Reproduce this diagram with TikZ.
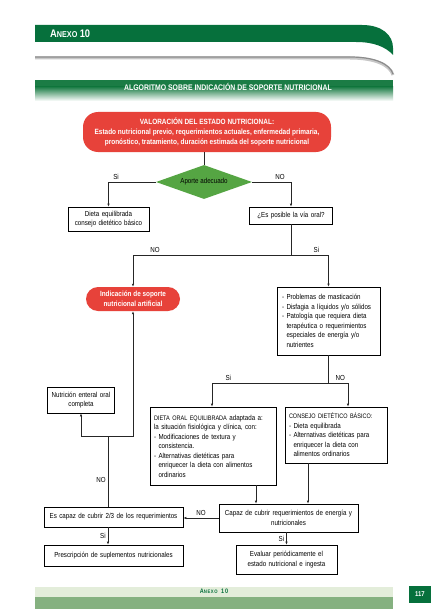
\documentclass[tikz,border=0pt]{standalone}
\usepackage{fontspec}
\setmainfont{Liberation Sans}[FakeStretch=0.85]
\usetikzlibrary{arrows.meta,shapes.geometric}
\definecolor{anexo}{HTML}{06703C}
\definecolor{banda}{HTML}{1B7C45}
\definecolor{rojo}{HTML}{E7423A}
\definecolor{verderombo}{HTML}{55A543}
\definecolor{pieclaro}{HTML}{E3EDDA}
\definecolor{pieoscuro}{HTML}{85B180}
\newcommand{\sang}{\hphantom{- }}
\newcommand{\mayus}[1]{{\fontsize{6.5}{9.5}\selectfont #1}}

\begin{document}
\begin{tikzpicture}[x=1pt,y=-1pt,
  caja/.style={draw=black,line width=.6pt,fill=white,inner xsep=5pt,inner ysep=0pt,align=center,font=\fontsize{7.3}{9.5}\selectfont},
  rojacaja/.style={fill=rojo,rounded corners=12pt,inner sep=0pt,align=center,text=white,font=\bfseries\fontsize{7.5}{10}\selectfont},
  decision/.style={diamond,fill=verderombo,aspect=2.8,minimum width=96pt,minimum height=34pt,inner sep=0pt,font=\fontsize{7.3}{9}\selectfont},
  flecha/.style={draw=black!85,line width=.6pt,-{Latex[length=3pt,width=2.4pt]}},
  linea/.style={draw=black!85,line width=.6pt},
  etiq/.style={font=\fontsize{7.3}{9}\selectfont,inner sep=2pt}]
  \useasboundingbox (0,0) rectangle (439,615);
  \fill[white] (0,0) rectangle (439,615);

  % cabecera
  \fill[anexo] (35,25) -- (362,25) .. controls (382,25) and (393,35) .. (393,48) -- (393,55)
    .. controls (386,47) and (374,42) .. (356,42) -- (35,42) -- cycle;
  \draw[black!22,line width=3pt] (35,58) -- (350,58) .. controls (375,58) and (390,65) .. (393,75);
  \draw[black!45,line width=1.2pt] (35,57) -- (350,57) .. controls (375,57) and (390,64) .. (393,74);
  \node[anchor=west,text=white,font=\bfseries,inner sep=0pt] (anexo) at (50,34)
    {{\fontsize{11}{11}\selectfont A}{\fontsize{8.5}{9}\selectfont NEXO} {\fontsize{11}{11}\selectfont 10}};
  \fill[banda] (35,80) rectangle (393,87);
  \shade[top color=banda,bottom color=white] (35,86.8) rectangle (393,101);
  \node[text=white,font=\bfseries\fontsize{8.1}{8.5}\selectfont,inner sep=0pt] (titulo) at (228,86.5)
    {ALGORITMO SOBRE INDICACIÓN DE SOPORTE NUTRICIONAL};

  % nodos
  \node[rojacaja,minimum width=248pt,minimum height=40pt,rounded corners=15pt,font=\bfseries\fontsize{7.6}{9.8}\selectfont] (valor) at (207,132)
    {VALORACIÓN DEL ESTADO NUTRICIONAL:\\Estado nutricional previo, requerimientos actuales, enfermedad primaria,\\pronóstico, tratamiento, duración estimada del soporte nutricional};
  \node[decision] (aporte) at (204,182) {Aporte adecuado};
  \node[caja,text width=71pt,minimum height=24pt] (dieta) at (108.5,219) {Dieta equilibrada\\consejo dietético básico};
  \node[caja,text width=73pt,minimum height=17pt] (viaoral) at (291,215.5) {¿Es posible la vía oral?};
  \node[rojacaja,minimum width=94pt,minimum height=24pt] (indic) at (133,299) {Indicación de soporte\\nutricional artificial};
  \node[caja,align=left,text width=93pt,minimum height=68pt] (problemas) at (328.5,321)
    {- Problemas de masticación\\- Disfagia a líquidos y/o sólidos\\- Patología que requiera dieta\\\sang terapéutica o requerimientos\\\sang especiales de energía y/o\\\sang nutrientes};
  \node[caja,inner xsep=3.5pt,text width=60pt,minimum height=26pt] (nutricion) at (81,400) {Nutrición enteral oral\\completa};
  \node[caja,align=left,inner xsep=4pt,text width=118pt,minimum height=78pt] (dietaoral) at (213,446)
    {\mayus{DIETA ORAL EQUILIBRADA} adaptada a:\\la situación fisiológica y clínica, con:\\- Modificaciones de textura y\\\sang consistencia.\\- Alternativas dietéticas para\\\sang enriquecer la dieta con alimentos\\\sang ordinarios};
  \node[caja,align=left,inner xsep=4pt,text width=94pt,minimum height=56pt] (consejo) at (336,435)
    {\mayus{CONSEJO DIETÉTICO BÁSICO:}\\- Dieta equilibrada\\- Alternativas dietéticas para\\\sang enriquecer la dieta con\\\sang alimentos ordinarios};
  \node[caja,text width=129pt,minimum height=20pt] (escapaz) at (113.5,517) {Es capaz de cubrir 2/3 de los requerimientos};
  \node[caja,text width=129pt,minimum height=28pt] (capaz) at (288.5,518) {Capaz de cubrir requerimientos de energía y\\nutricionales};
  \node[caja,text width=129pt,minimum height=21pt] (prescr) at (113.5,555.5) {Prescripción de suplementos nutricionales};
  \node[caja,text width=91pt,minimum height=29pt] (evaluar) at (286.5,559.5) {Evaluar periódicamente el\\estado nutricional e ingesta};

  % conectores
  \coordinate (cruce1) at (291,255);
  \coordinate (cruce2) at (328.5,383);
  \coordinate (cruce3) at (108,436);
  \draw[linea] (aporte.north) -- (aporte.north |- valor.south);
  \draw[flecha] (aporte.west) -| node[etiq,pos=.42,above] {Si} (dieta.north);
  \draw[flecha] (aporte.east) -| node[etiq,pos=.36,above] {NO} (viaoral.north);
  \draw[linea] (viaoral.south) -- (cruce1);
  \draw[flecha] (cruce1) -| node[etiq,pos=.43,above] {NO} (indic.north);
  \draw[flecha] (cruce1) -| node[etiq,pos=.34,above] {Si} (problemas.north);
  \draw[linea] (problemas.south) -- (cruce2);
  \draw[flecha] (cruce2) -| node[etiq,pos=.43,above] {Si} ([xshift=-1pt]dietaoral.north);
  \draw[flecha] (cruce2) -| node[etiq,pos=.3,above] {NO} ([xshift=12pt]consejo.north);
  \draw[flecha] ([xshift=43pt]dietaoral.south) -- ([xshift=43pt]dietaoral.south |- capaz.north);
  \draw[flecha] ([xshift=-28pt]consejo.south) -- ([xshift=-28pt]consejo.south |- capaz.north);
  \draw[flecha] (capaz.west) -- node[etiq,above] {NO} (capaz.west -| escapaz.east);
  \draw[linea] ([xshift=-5.5pt]escapaz.north) -- node[etiq,pos=.38,left] {NO} (cruce3);
  \draw[flecha] (cruce3) -| (indic.south);
  \draw[flecha] (cruce3) -| (nutricion.south);
  \draw[flecha] ([xshift=-5.5pt]escapaz.south) -- node[etiq,left] {Si} ([xshift=-5.5pt]prescr.north);
  \draw[flecha] (evaluar.north |- capaz.south) -- node[etiq,left] {Si} (evaluar.north);

  % pie
  \fill[pieclaro] (35,587) rectangle (393,597);
  \fill[pieoscuro] (35,597) rectangle (393,609);
  \node[text=anexo,font=\bfseries\addfontfeatures{LetterSpace=12},inner sep=0pt] (pie) at (214,591.5)
    {{\fontsize{6.5}{7}\selectfont A}{\fontsize{5}{6}\selectfont NEXO} {\fontsize{6.5}{7}\selectfont 10}};
  \node[fill=anexo,text=white,font=\bfseries\fontsize{7}{8}\selectfont,minimum width=22pt,minimum height=17pt,inner sep=0pt] (pagina) at (420,594.5) {117};
\end{tikzpicture}
\end{document}
